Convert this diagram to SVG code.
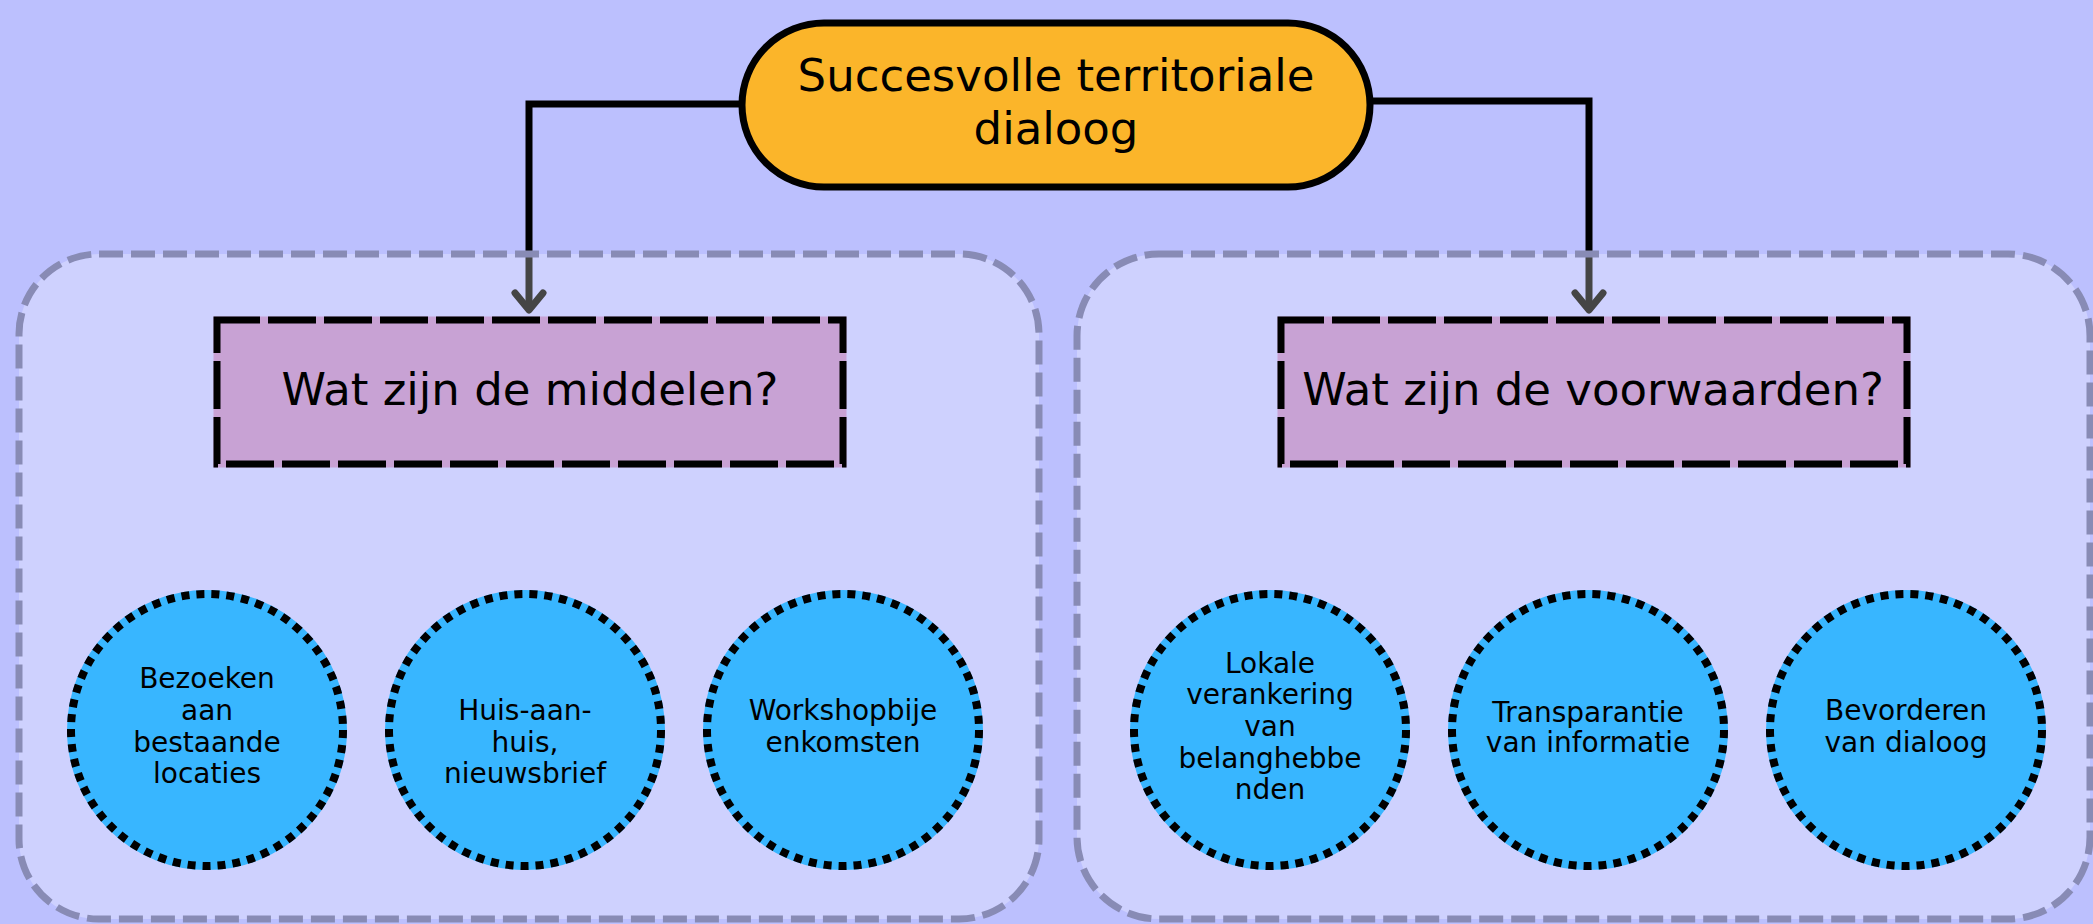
<svg xmlns="http://www.w3.org/2000/svg" width="2093" height="924" viewBox="0 0 2093 924">
<defs>
<style>
.bg{fill:#BCC0FE}
.cont{fill:#FFFFFF;fill-opacity:0.27;stroke:#888BB5;stroke-width:7;stroke-dasharray:24 8}
.conn{fill:none;stroke:#000;stroke-width:7}
.top{fill:#FBB52A;stroke:#000;stroke-width:7}
.hdrfill{fill:#C8A2D4;stroke:#C8A2D4;stroke-width:7}
.hdrline{fill:none;stroke:#000;stroke-width:7;stroke-dasharray:48 8;stroke-dashoffset:5}
.cfill{fill:#38B6FF;stroke:#38B6FF;stroke-width:8}
.cline{fill:none;stroke:#000;stroke-width:8;stroke-dasharray:8 7}
.t45{font-family:"DejaVu Sans",sans-serif;font-size:45px;fill:#000;text-anchor:middle}
.t28{font-family:"DejaVu Sans",sans-serif;font-size:28px;fill:#000;text-anchor:middle}
</style>
<marker id="arr" markerUnits="userSpaceOnUse" markerWidth="40" markerHeight="40" refX="0" refY="0" viewBox="-25 -20 40 40" orient="auto" overflow="visible">
<path d="M -17 -14 L 0 0 L -17 14" fill="none" stroke="#000" stroke-width="7" stroke-linecap="round" stroke-linejoin="round"/>
</marker>
</defs>
<rect class="bg" x="0" y="0" width="2093" height="924"/>
<g id="connectors">
<path class="conn" d="M 740 104 H 529 V 310" marker-end="url(#arr)"/>
<path class="conn" d="M 1373 101 H 1589 V 310" marker-end="url(#arr)"/>
</g>
<g id="group-middelen">
<rect class="cont" x="19" y="254" width="1020" height="665" rx="80" ry="80"/>
</g>
<g id="group-voorwaarden">
<rect class="cont" x="1077" y="254" width="1013" height="665" rx="82" ry="82"/>
</g>
<g id="node-root">
<rect class="top" x="742" y="23" width="628" height="164" rx="82" ry="82"/>
<text class="t45" x="1056" y="91">Succesvolle territoriale</text>
<text class="t45" x="1056" y="144">dialoog</text>
</g>
<g id="node-middelen">
<rect class="hdrfill" x="217" y="320" width="626" height="144"/>
<rect class="hdrline" x="217" y="320" width="626" height="144"/>
<text class="t45" x="530" y="405">Wat zijn de middelen?</text>
</g>
<g id="node-voorwaarden">
<rect class="hdrfill" x="1281" y="320" width="626" height="144"/>
<rect class="hdrline" x="1281" y="320" width="626" height="144"/>
<text class="t45" x="1593" y="405">Wat zijn de voorwaarden?</text>
</g>
<g id="node-bezoeken">
<circle class="cfill" cx="207" cy="730" r="136"/>
<circle class="cline" cx="207" cy="730" r="136"/>
<text class="t28" x="207" y="688">Bezoeken</text>
<text class="t28" x="207" y="720">aan</text>
<text class="t28" x="207" y="752">bestaande</text>
<text class="t28" x="207" y="783">locaties</text>
</g>
<g id="node-huis">
<circle class="cfill" cx="525" cy="730" r="136"/>
<circle class="cline" cx="525" cy="730" r="136"/>
<text class="t28" x="525" y="720">Huis-aan-</text>
<text class="t28" x="525" y="752">huis,</text>
<text class="t28" x="525" y="783">nieuwsbrief</text>
</g>
<g id="node-workshop">
<circle class="cfill" cx="843" cy="730" r="136"/>
<circle class="cline" cx="843" cy="730" r="136"/>
<text class="t28" x="843" y="720">Workshopbije</text>
<text class="t28" x="843" y="752">enkomsten</text>
</g>
<g id="node-lokale">
<circle class="cfill" cx="1270" cy="730" r="136"/>
<circle class="cline" cx="1270" cy="730" r="136"/>
<text class="t28" x="1270" y="673">Lokale</text>
<text class="t28" x="1270" y="704">verankering</text>
<text class="t28" x="1270" y="736">van</text>
<text class="t28" x="1270" y="768">belanghebbe</text>
<text class="t28" x="1270" y="799">nden</text>
</g>
<g id="node-transparantie">
<circle class="cfill" cx="1588" cy="730" r="136"/>
<circle class="cline" cx="1588" cy="730" r="136"/>
<text class="t28" x="1588" y="722">Transparantie</text>
<text class="t28" x="1588" y="752">van informatie</text>
</g>
<g id="node-dialoog">
<circle class="cfill" cx="1906" cy="730" r="136"/>
<circle class="cline" cx="1906" cy="730" r="136"/>
<text class="t28" x="1906" y="720">Bevorderen</text>
<text class="t28" x="1906" y="752">van dialoog</text>
</g>
</svg>
